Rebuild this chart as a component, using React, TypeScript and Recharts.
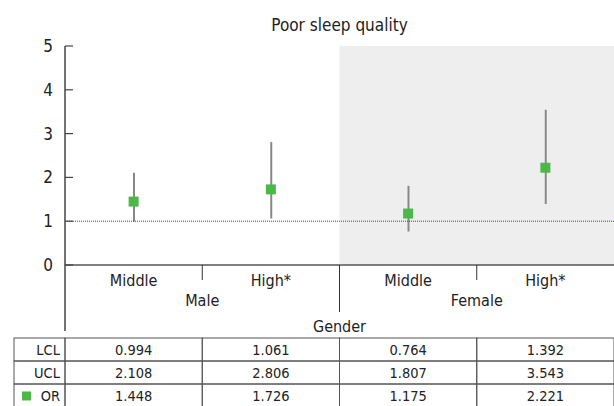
import { ComposedChart, Bar, Line, XAxis, YAxis, ReferenceArea, ReferenceLine } from 'recharts';

const FONT = '"Liberation Sans Narrow", "DejaVu Sans Condensed", "Liberation Sans", sans-serif';

const categories = ['Middle', 'High*', 'Middle', 'High*'];
const groups = ['Male', 'Male', 'Female', 'Female'];
const lcl = [0.994, 1.061, 0.764, 1.392];
const ucl = [2.108, 2.806, 1.807, 3.543];
const oddsRatio = [1.448, 1.726, 1.175, 2.221];
const yTicks = [0, 1, 2, 3, 4, 5];
const tableRows = [
  { label: 'LCL', values: lcl },
  { label: 'UCL', values: ucl },
  { label: 'OR', values: oddsRatio },
];

const data = categories.map((cat, i) => ({
  key: `${groups[i]} ${cat}`,
  cat,
  group: groups[i],
  ci: [lcl[i], ucl[i]],
  or: oddsRatio[i],
}));

const LINE = '#555';
const TEXT = '#222';
const GREEN = '#4cb848';
const ROW_H = 23;
const TABLE_LEFT = 14;

const YTick = (props: any) => {
  const { x, y, payload } = props;
  return (
    <g>
      <line x1={x + 12} x2={x + 20} y1={y} y2={y} stroke="#444" strokeWidth={1.2} />
      <text x={x} y={y} textAnchor="end" dominantBaseline="central" fontSize={17} fill={TEXT} fontFamily={FONT}>
        {payload.value}
      </text>
    </g>
  );
};

const XTick = (props: any) => {
  const { x, y, payload, index } = props;
  const bw = (payload.offset || 68.5) * 2;
  const left = x - bw / 2;
  const right = x + bw / 2;
  const d = data[index];
  const tableTop = y + 73;
  return (
    <g fontFamily={FONT} fill={TEXT}>
      <text x={x} y={y + 15} textAnchor="middle" dominantBaseline="central" fontSize={16}>
        {d.cat}
      </text>
      {index === 0 || index === 2 ? (
        <g>
          <line x1={right} x2={right} y1={y} y2={y + 15} stroke="#333" strokeWidth={1} />
          <text x={right} y={y + 35} textAnchor="middle" dominantBaseline="central" fontSize={16}>
            {d.group}
          </text>
        </g>
      ) : null}
      {index === 1 ? (
        <g>
          <line x1={right} x2={right} y1={y} y2={y + 47} stroke="#333" strokeWidth={1} />
          <text x={right} y={y + 61} textAnchor="middle" dominantBaseline="central" fontSize={16}>
            Gender
          </text>
        </g>
      ) : null}
      {index === 0 ? (
        <g>
          <line x1={left} x2={left} y1={y} y2={y + 66} stroke="#444" strokeWidth={1.5} />
          {tableRows.map((row, r) => (
            <g key={row.label}>
              <rect x={TABLE_LEFT} y={tableTop + r * ROW_H} width={left - TABLE_LEFT} height={ROW_H} fill="none" stroke={LINE} strokeWidth={1} />
              {row.label === 'OR' ? (
                <rect x={TABLE_LEFT + 8} y={tableTop + r * ROW_H + 7.5} width={9} height={9} fill={GREEN} />
              ) : null}
              <text x={left - 5} y={tableTop + r * ROW_H + ROW_H / 2} textAnchor="end" dominantBaseline="central" fontSize={14.5}>
                {row.label}
              </text>
            </g>
          ))}
        </g>
      ) : null}
      {tableRows.map((row, r) => (
        <g key={row.label}>
          <rect x={left} y={tableTop + r * ROW_H} width={bw} height={ROW_H} fill="none" stroke={LINE} strokeWidth={1} />
          <text x={x} y={tableTop + r * ROW_H + ROW_H / 2} textAnchor="middle" dominantBaseline="central" fontSize={14.5}>
            {row.values[index].toFixed(3)}
          </text>
        </g>
      ))}
    </g>
  );
};

const SquareDot = (props: any) => {
  const { cx, cy } = props;
  if (cx == null || cy == null) return null;
  return <rect x={cx - 5} y={cy - 5} width={10} height={10} fill={GREEN} />;
};

const App = () => {
  return (
    <div style={{ position: 'absolute', left: 0, top: 0, width: 614, height: 406, background: '#fff' }}>
      <div
        style={{
          position: 'absolute',
          left: 65,
          width: 549,
          top: 13,
          textAlign: 'center',
          fontFamily: FONT,
          fontSize: 17,
          lineHeight: '24px',
          color: TEXT,
        }}
      >
        Poor sleep quality
      </div>
      <ComposedChart width={614} height={406} data={data} margin={{ top: 46, right: 0, left: 0, bottom: 0 }}>
        <ReferenceArea x1={data[2].key} x2={data[3].key} fill="#eeeeee" fillOpacity={1} stroke="none" />
        <XAxis
          dataKey="key"
          height={141}
          interval={0}
          tickLine={false}
          tickSize={0}
          tickMargin={0}
          axisLine={{ stroke: LINE, strokeWidth: 1.5 }}
          tick={<XTick />}
        />
        <YAxis
          width={65}
          domain={[0, 5]}
          ticks={yTicks}
          interval={0}
          tickLine={false}
          tickSize={0}
          tickMargin={12}
          axisLine={{ stroke: '#444', strokeWidth: 1.5 }}
          tick={<YTick />}
        />
        <ReferenceLine y={1} stroke="#2e3f9e" strokeDasharray="1 1" strokeWidth={1} />
        <Bar dataKey="ci" barSize={2} fill="#888" isAnimationActive={false} />
        <Line dataKey="or" stroke="none" dot={<SquareDot />} activeDot={false} isAnimationActive={false} />
      </ComposedChart>
    </div>
  );
};

export default App;
